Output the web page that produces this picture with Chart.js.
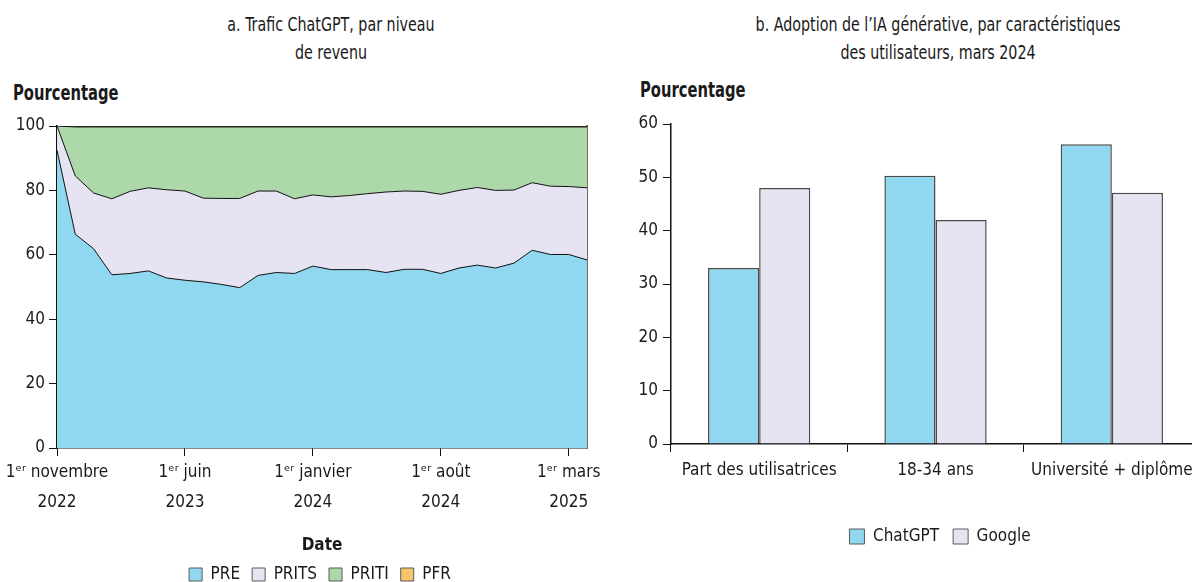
<!DOCTYPE html>
<html><head><meta charset="utf-8">
<script src="https://cdn.jsdelivr.net/npm/chart.js@4.4.1/dist/chart.umd.min.js"></script>
<style>
html,body{margin:0;padding:0;background:#fff;overflow:hidden;width:1192px;height:582px;}
body{position:relative;font-family:'Liberation Sans Narrow','DejaVu Sans Condensed','Roboto Condensed',sans-serif;color:#1a1a1a;}
.ttl{position:absolute;width:500px;text-align:center;font-size:19.6px;line-height:27.5px;white-space:nowrap;transform:scaleX(0.81);transform-origin:50% 0;}
.pct{position:absolute;font-weight:bold;font-size:20.5px;line-height:24px;white-space:nowrap;transform:scaleX(0.8);transform-origin:0 0;}
canvas{position:absolute;top:0;}
</style></head>
<body>
<div class="ttl" style="left:81px;top:11px;">a. Trafic ChatGPT, par niveau<br>de revenu</div>
<div class="pct" style="left:13px;top:81px;">Pourcentage</div>
<div class="ttl" style="left:688px;top:11px;">b. Adoption de l’IA générative, par caractéristiques<br>des utilisateurs, mars 2024</div>
<div class="pct" style="left:640px;top:78px;">Pourcentage</div>
<canvas id="c1" width="640" height="593" style="left:0px;"></canvas>
<canvas id="c2" width="680" height="555" style="left:600px;"></canvas>
<script>
// ---- Panel a data ----
const dates = ['2022-11','2022-12','2023-01','2023-02','2023-03','2023-04','2023-05','2023-06','2023-07','2023-08',
               '2023-09','2023-10','2023-11','2023-12','2024-01','2024-02','2024-03','2024-04','2024-05','2024-06',
               '2024-07','2024-08','2024-09','2024-10','2024-11','2024-12','2025-01','2025-02','2025-03','2025-04'];
const dateTickLabels = {
  '2022-11': ['1ᵉʳ novembre', '2022'],
  '2023-06': ['1ᵉʳ juin', '2023'],
  '2024-01': ['1ᵉʳ janvier', '2024'],
  '2024-08': ['1ᵉʳ août', '2024'],
  '2025-03': ['1ᵉʳ mars', '2025']
};
const PRE   = [92.5,66.4,61.9,53.8,54.2,55.0,52.8,52.1,51.6,50.8,49.8,53.6,54.5,54.2,56.5,55.4,55.4,55.4,54.5,55.5,55.5,54.2,55.9,56.8,55.9,57.4,61.4,60.1,60.1,58.4];
const PRITS = [7.5,18.1,17.3,23.6,25.5,25.8,27.4,27.7,26.0,26.7,27.7,26.2,25.3,23.2,22.1,22.6,23.0,23.6,25.0,24.3,24.2,24.6,24.1,24.1,24.1,22.7,21.0,21.2,21.1,22.4];
const PRITI = [0.0,15.2,20.5,22.3,20.0,18.9,19.5,19.9,22.1,22.2,22.2,19.9,19.9,22.3,21.1,21.7,21.3,20.7,20.2,19.9,20.0,20.9,19.7,18.8,19.7,19.6,17.3,18.4,18.5,18.9];
const PFR   = [0.0,0.3,0.3,0.3,0.3,0.3,0.3,0.3,0.3,0.3,0.3,0.3,0.3,0.3,0.3,0.3,0.3,0.3,0.3,0.3,0.3,0.3,0.3,0.3,0.3,0.3,0.3,0.3,0.3,0.3];
const yTicksA = [0, 20, 40, 60, 80, 100];

// ---- Panel b data ----
const groups  = ['Part des utilisatrices', '18-34 ans', 'Université + diplôme'];
const chatgpt = [33.0, 50.3, 56.2];
const google  = [48.0, 42.0, 47.1];
const yTicksB = [0, 10, 20, 30, 40, 50, 60];

const FONT = "'Liberation Sans Narrow','DejaVu Sans Condensed','Roboto Condensed',sans-serif";
const TXT = '#1a1a1a';
Chart.defaults.font.family = FONT;
Chart.defaults.font.size = 17;
Chart.defaults.color = TXT;
Chart.defaults.animation = false;

const C_BLUE = '#8fd8f0', C_LAV = '#e6e4f3', C_GREEN = '#add8aa', C_ORANGE = '#f7c66c';

function legendLabels(chart) {
  const items = Chart.defaults.plugins.legend.labels.generateLabels(chart);
  items.forEach(it => { it.strokeStyle = '#5a5a5a'; it.lineWidth = 1; it.lineDash = []; });
  return items;
}

const tickKeep = Object.keys(dateTickLabels);

new Chart(document.getElementById('c1'), {
  type: 'line',
  data: {
    labels: dates,
    datasets: [
      {label: 'PRE',   data: PRE,   backgroundColor: C_BLUE,   borderColor: '#111', borderWidth: 1, fill: 'origin'},
      {label: 'PRITS', data: PRITS, backgroundColor: C_LAV,    borderColor: '#111', borderWidth: 1, fill: '-1'},
      {label: 'PRITI', data: PRITI, backgroundColor: C_GREEN,  borderColor: '#111', borderWidth: 1, fill: '-1'},
      {label: 'PFR',   data: PFR,   backgroundColor: C_ORANGE, borderColor: '#222', borderWidth: 1.5, fill: '-1'}
    ]
  },
  options: {
    responsive: false,
    layout: {padding: {top: 126, left: 0, right: 0, bottom: 0}},
    elements: {point: {radius: 0, hoverRadius: 0}, line: {tension: 0}},
    plugins: {
      title: {display: false},
      tooltip: {enabled: false},
      legend: {
        position: 'bottom',
        labels: {boxWidth: 13, boxHeight: 13, padding: 12, generateLabels: legendLabels, font: {size: 17}}
      }
    },
    scales: {
      x: {
        type: 'category',
        offset: false,
        afterBuildTicks: s => { s.ticks = s.ticks.filter(t => tickKeep.includes(dates[t.value])); },
        afterFit: s => { s.height = 106; },
        ticks: {
          autoSkip: false, maxRotation: 0, padding: 2,
          font: {size: 17, lineHeight: 1.75},
          callback: function (v) { return dateTickLabels[this.getLabelForValue(v)] || ''; }
        },
        grid: {display: true, drawOnChartArea: false, tickLength: 8, color: '#111', lineWidth: 1},
        border: {display: true, color: '#111', width: 1.5},
        title: {display: true, text: 'Date', font: {size: 17, weight: 'bold', lineHeight: 1.0}, padding: {top: 0, bottom: 0}}
      },
      y: {
        stacked: true, min: 0, max: 100,
        afterFit: s => { s.width = 57; },
        afterBuildTicks: s => { s.ticks = yTicksA.map(v => ({value: v})); },
        ticks: {padding: 4, font: {size: 17}},
        grid: {display: true, drawOnChartArea: false, tickLength: 8, color: '#111', lineWidth: 1},
        border: {display: true, color: '#111', width: 1.5}
      },
      y2: {
        position: 'right', min: 0, max: 100,
        afterFit: s => { s.width = 53; },
        ticks: {display: false},
        grid: {display: false},
        border: {display: true, color: '#6b6b6b', width: 2}
      }
    }
  }
});

new Chart(document.getElementById('c2'), {
  type: 'bar',
  data: {
    labels: groups,
    datasets: [
      {label: 'ChatGPT', data: chatgpt, backgroundColor: C_BLUE, borderColor: '#4a4a4a', borderWidth: 1.5},
      {label: 'Google',  data: google,  backgroundColor: C_LAV,  borderColor: '#4a4a4a', borderWidth: 1.5}
    ]
  },
  options: {
    responsive: false,
    layout: {padding: {top: 124, left: 0, right: 0, bottom: 0}},
    datasets: {bar: {categoryPercentage: 0.58, barPercentage: 1.0}},
    plugins: {
      tooltip: {enabled: false},
      legend: {
        position: 'bottom',
        labels: {boxWidth: 15, boxHeight: 15, padding: 14, generateLabels: legendLabels, font: {size: 17}}
      }
    },
    scales: {
      x: {
        afterFit: s => { s.height = 70; },
        ticks: {padding: 8, font: {size: 17}},
        grid: {display: true, drawOnChartArea: false, tickLength: 8, color: '#111', lineWidth: 1, offset: true},
        border: {display: true, color: '#111', width: 1.5}
      },
      y: {
        min: 0, max: 60,
        afterFit: s => { s.width = 71; },
        afterBuildTicks: s => { s.ticks = yTicksB.map(v => ({value: v})); },
        ticks: {padding: 5, font: {size: 17}},
        grid: {display: true, drawOnChartArea: false, tickLength: 8, color: '#111', lineWidth: 1},
        border: {display: true, color: '#111', width: 1.5}
      },
      y2: {
        position: 'right', min: 0, max: 1,
        afterFit: s => { s.width = 80; },
        ticks: {display: false},
        grid: {display: false},
        border: {display: false}
      }
    }
  }
});
</script>
</body></html>
